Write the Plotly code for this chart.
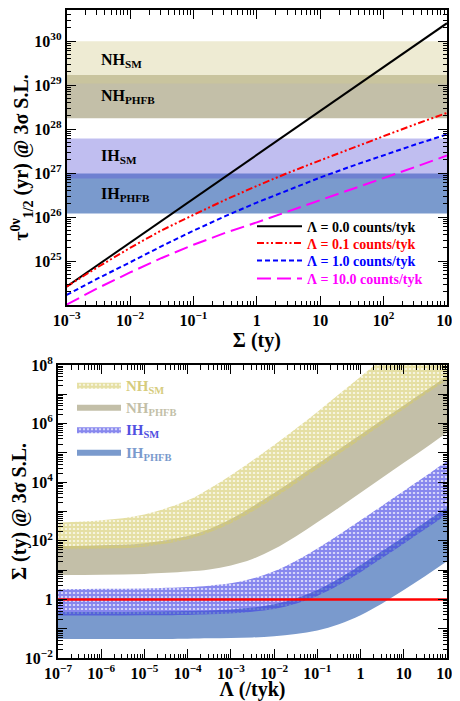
import plotly.graph_objects as go

# page has an 8px body margin, so the figure is 8px smaller and all pixel positions shift by 8
OFF = 8
W, H = 460 - OFF, 701 - OFF
FONT = "Liberation Serif"

# ---------------- top panel data ----------------
exposure_ty = [1e-3, 3.16e-3, 1e-2, 3.16e-2, 1e-1, 0.316, 1, 3.16, 10, 31.6, 100, 316, 1000]
log_tau_bkg_0p0 = [24.42, 24.92, 25.42, 25.92, 26.42, 26.92, 27.42, 27.92, 28.42, 28.92, 29.42, 29.92, 30.41]
log_tau_bkg_0p1 = [24.42, 24.87, 25.30, 25.70, 26.05, 26.39, 26.71, 27.01, 27.29, 27.57, 27.84, 28.11, 28.37]
log_tau_bkg_1p0 = [24.23, 24.61, 24.97, 25.34, 25.69, 26.02, 26.33, 26.62, 26.90, 27.16, 27.41, 27.65, 27.88]
log_tau_bkg_10p0 = [24.01, 24.39, 24.74, 25.07, 25.37, 25.64, 25.88, 26.13, 26.38, 26.63, 26.89, 27.14, 27.40]
line_names = ["Λ = 0.0 counts/tyk", "Λ = 0.1 counts/tyk", "Λ = 1.0 counts/tyk", "Λ = 10.0 counts/tyk"]

# half-life bands [low, high] (log10 yr)
band_nh_sm = [29.04, 30.0]
band_nh_phfb = [28.25, 29.23]
band_ih_sm = [26.88, 27.79]
band_ih_phfb = [26.08, 26.99]

# ---------------- bottom panel data ----------------
bkg_index = [1e-7, 1e-6, 1e-5, 1e-4, 3.16e-4, 1e-3, 3.16e-3, 1e-2, 3.16e-2, 0.1, 0.316, 1, 3.16, 10, 31.6, 100]
nh_sm_hi = [2.62, 2.70, 2.90, 3.38, 3.78, 4.24, 4.74, 5.27, 5.82, 6.40, 7.00, 7.60, 8.20, 8.75, 9.30, 9.85]
nh_sm_lo = [1.71, 1.73, 1.80, 2.05, 2.28, 2.60, 3.00, 3.46, 3.95, 4.45, 4.96, 5.47, 5.98, 6.50, 7.00, 7.50]
nh_phfb_hi = [1.82, 1.85, 1.92, 2.16, 2.40, 2.74, 3.17, 3.63, 4.12, 4.62, 5.12, 5.62, 6.12, 6.62, 7.12, 7.62]
nh_phfb_lo = [0.83, 0.84, 0.87, 0.95, 1.02, 1.16, 1.38, 1.72, 2.15, 2.63, 3.13, 3.64, 4.15, 4.66, 5.17, 5.70]
ih_sm_hi = [0.35, 0.36, 0.37, 0.42, 0.47, 0.55, 0.71, 0.96, 1.31, 1.74, 2.21, 2.70, 3.20, 3.70, 4.20, 4.72]
ih_sm_lo = [-0.55, -0.55, -0.54, -0.53, -0.51, -0.48, -0.42, -0.33, -0.15, 0.12, 0.49, 0.93, 1.41, 1.90, 2.40, 2.90]
ih_phfb_hi = [-0.43, -0.43, -0.42, -0.40, -0.38, -0.345, -0.28, -0.165, 0.03, 0.32, 0.71, 1.17, 1.65, 2.14, 2.64, 3.14]
ih_phfb_lo = [-1.35, -1.35, -1.35, -1.34, -1.33, -1.32, -1.30, -1.26, -1.18, -1.06, -0.85, -0.54, -0.14, 0.32, 0.80, 1.30]
reference_exposure = 1.0

# tick labels
top_x_ticks = [1e-3, 1e-2, 1e-1, 1, 10, 100, 1000]
top_x_text = ["10<sup>−3</sup>", "10<sup>−2</sup>", "10<sup>−1</sup>", "1", "10", "10<sup>2</sup>", "10<sup>3</sup>"]
top_y_ticks = [1e24, 1e25, 1e26, 1e27, 1e28, 1e29, 1e30]
top_y_text = ["", "10<sup>25</sup>", "10<sup>26</sup>", "10<sup>27</sup>", "10<sup>28</sup>", "10<sup>29</sup>", "10<sup>30</sup>"]
bot_x_ticks = [1e-7, 1e-6, 1e-5, 1e-4, 1e-3, 1e-2, 1e-1, 1, 10, 100]
bot_x_text = ["10<sup>−7</sup>", "10<sup>−6</sup>", "10<sup>−5</sup>", "10<sup>−4</sup>", "10<sup>−3</sup>",
              "10<sup>−2</sup>", "10<sup>−1</sup>", "1", "10", "10<sup>2</sup>"]
bot_y_ticks = [1e-2, 1e-1, 1, 10, 1e2, 1e3, 1e4, 1e5, 1e6, 1e7, 1e8]
bot_y_text = ["10<sup>−2</sup>", "", "1", "", "10<sup>2</sup>", "", "10<sup>4</sup>", "", "10<sup>6</sup>", "", "10<sup>8</sup>"]


def p(vals):
    return [10 ** v for v in vals]


def minor_vals(lo, hi):
    out = []
    for e in range(lo, hi):
        for m in range(2, 10):
            out.append(m * 10.0 ** e)
    return out


def px_x(x):
    return (x - OFF) / W


def px_y(y):
    return 1 - (y - OFF) / H


fig = go.Figure()

# ---- top bands (PHFB solid, SM translucent on top) ----
x_span = [exposure_ty[0], exposure_ty[-1]]
top_bands = [
    (band_nh_phfb, "rgb(195,191,168)"),
    (band_nh_sm, "rgba(211,204,142,0.39)"),
    (band_ih_phfb, "rgb(122,154,205)"),
    (band_ih_sm, "rgba(93,88,216,0.39)"),
]
for band, col in top_bands:
    fig.add_trace(go.Scatter(x=x_span, y=[10 ** band[0]] * 2, mode="lines", line=dict(width=0),
                             showlegend=False, hoverinfo="skip", xaxis="x", yaxis="y"))
    fig.add_trace(go.Scatter(x=x_span, y=[10 ** band[1]] * 2, mode="lines", line=dict(width=0),
                             fill="tonexty", fillcolor=col, showlegend=False, hoverinfo="skip",
                             xaxis="x", yaxis="y"))

# ---- top curves (one legend per row for exact spacing) ----
top_rows_y = [226.7, 243.5, 261.0, 279.0]
curve_sets = [
    (log_tau_bkg_0p0, "black", "solid"),
    (log_tau_bkg_0p1, "red", "7px,2.5px,2px,2.5px,2px,2.5px"),
    (log_tau_bkg_1p0, "blue", "5px,3px"),
    (log_tau_bkg_10p0, "magenta", "14px,6px"),
]
legend_layouts = {}
for i, ((vals, col, dash), name) in enumerate(zip(curve_sets, line_names)):
    lg = "legend" if i == 0 else f"legend{i + 1}"
    fig.add_trace(go.Scatter(x=exposure_ty, y=p(vals), mode="lines",
                             line=dict(color=col, width=2, dash=dash),
                             name=f"<span style='color:{col}'>{name}</span>",
                             legend=lg, xaxis="x", yaxis="y"))
    legend_layouts[lg] = dict(x=px_x(252), y=px_y(top_rows_y[i]), xanchor="left", yanchor="middle",
                              bgcolor="rgba(0,0,0,0)", itemwidth=45,
                              font=dict(family=FONT, size=14, color="black", weight="bold"))

# ---- bottom bands ----
bot_rows_y = [385.0, 407.0, 429.5, 452.0]
bot_bands = [
    (nh_phfb_lo, nh_phfb_hi, "NH<sub>PHFB</sub>", "rgb(195,191,168)", None, None, "rgb(195,191,168)", 1),
    (nh_sm_lo, nh_sm_hi, "NH<sub>SM</sub>", "rgba(0,0,0,0)", "rgb(214,203,105)", "rgba(214,203,105,0.22)",
     "rgb(214,204,125)", 0),
    (ih_phfb_lo, ih_phfb_hi, "IH<sub>PHFB</sub>", "rgb(122,154,205)", None, None, "rgb(122,154,205)", 3),
    (ih_sm_lo, ih_sm_hi, "IH<sub>SM</sub>", "rgba(0,0,0,0)", "rgb(60,60,228)", "rgba(60,60,228,0.22)",
     "rgb(80,80,225)", 2),
]
for lo, hi, name, fcol, pcol, pbg, tcol, row in bot_bands:
    lg = f"legend{row + 5}"
    fig.add_trace(go.Scatter(x=bkg_index, y=p(lo), mode="lines", line=dict(width=0, shape="spline"),
                             showlegend=False, hoverinfo="skip", xaxis="x2", yaxis="y2"))
    kw = {}
    if pcol is not None:
        kw["fillpattern"] = dict(shape="+", fgcolor=pcol, bgcolor=pbg, size=4, solidity=0.7)
    fig.add_trace(go.Scatter(x=bkg_index, y=p(hi), mode="lines", line=dict(width=0, shape="spline"),
                             fill="tonexty", fillcolor=fcol,
                             name=f"<span style='color:{tcol}'>{name}</span>",
                             legend=lg, xaxis="x2", yaxis="y2", **kw))
    legend_layouts[lg] = dict(x=px_x(72), y=px_y(bot_rows_y[row]), xanchor="left", yanchor="middle",
                              bgcolor="rgba(0,0,0,0)", itemwidth=44,
                              font=dict(family=FONT, size=15, color="black", weight="bold"))

fig.add_trace(go.Scatter(x=[bkg_index[0], bkg_index[-1]], y=[reference_exposure] * 2, mode="lines",
                         line=dict(color="red", width=2.5), showlegend=False, xaxis="x2", yaxis="y2"))

# ---- annotations in top panel ----
labels = [("NH<sub>SM</sub>", 29.55), ("NH<sub>PHFB</sub>", 28.73), ("IH<sub>SM</sub>", 27.36), ("IH<sub>PHFB</sub>", 26.5)]
for txt, ly in labels:
    fig.add_annotation(x=-2.49, y=ly, xref="x", yref="y", text=txt, showarrow=False,
                       xanchor="left", yanchor="middle", yshift=1,
                       font=dict(family=FONT, size=16, color="black", weight="bold"))

tickfont = dict(family=FONT, size=16, color="black", weight="bold")
titlefont = dict(family=FONT, size=20, color="black", weight="bold")


def ax(domain, rng, tv, tt, mlo, mhi, anchor, title, standoff):
    return dict(type="log", domain=domain, range=rng, anchor=anchor, tickmode="array",
                tickvals=tv, ticktext=tt, showline=True, linewidth=2, linecolor="black",
                mirror="allticks", ticks="inside", ticklen=9, tickwidth=1.3, tickcolor="black",
                showgrid=False, zeroline=False, automargin=False, tickfont=tickfont,
                ticklabeloverflow="allow",
                minor=dict(ticks="inside", ticklen=4.5, tickwidth=1, tickcolor="black",
                           tickvals=minor_vals(mlo, mhi), showgrid=False),
                title=dict(text=title, font=titlefont, standoff=standoff))


fig.update_layout(
    width=W, height=H, margin=dict(l=0, r=0, t=0, b=0),
    paper_bgcolor="white", plot_bgcolor="white",
    xaxis=ax([px_x(66.7), px_x(447)], [-3, 3], top_x_ticks, top_x_text, -3, 3, "y", "Σ (ty)", 0),
    yaxis=ax([px_y(305), px_y(10)], [24, 30.71], top_y_ticks, top_y_text, 24, 31, "x",
             "τ<sup>0ν</sup><sub>1/2</sub> (yr) @ 3σ S.L.", 4),
    xaxis2=ax([px_x(58), px_x(447)], [-7, 2], bot_x_ticks, bot_x_text, -7, 2, "y2", "Λ (/tyk)", 8),
    yaxis2=ax([px_y(658), px_y(365)], [-2, 8], bot_y_ticks, bot_y_text, -2, 8, "x2",
              "Σ (ty) @ 3σ S.L.", 4),
    showlegend=True,
    **legend_layouts,
)

fig.write_html("out.html")
